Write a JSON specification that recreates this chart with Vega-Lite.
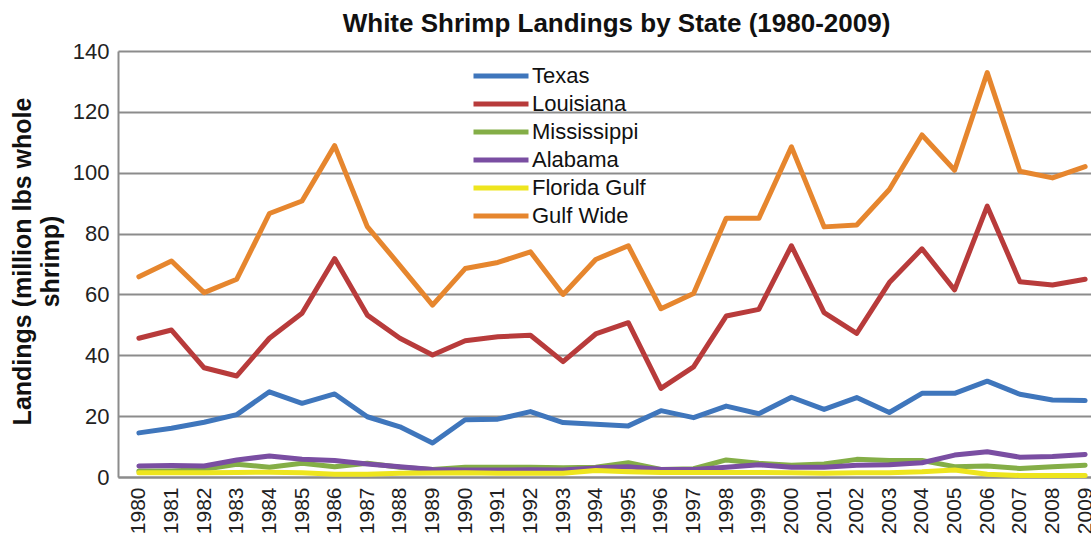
{
  "$schema": "https://vega.github.io/schema/vega-lite/v6.json",
  "autosize": {"type": "none"},
  "width": 973,
  "height": 426,
  "padding": {"left": 118, "top": 51, "right": 0, "bottom": 61},
  "background": "white",
  "config": {
    "font": "Liberation Sans",
    "view": {"stroke": null},
    "axis": {"labelFont": "Liberation Sans", "titleFont": "Liberation Sans"},
    "legend": {"labelFont": "Liberation Sans"}
  },
  "title": {
    "text": "White Shrimp Landings by State (1980-2009)",
    "font": "Liberation Sans",
    "fontSize": 26,
    "fontWeight": "bold",
    "color": "#111111",
    "anchor": "middle",
    "dx": 12,
    "offset": 3
  },
  "datasets": {
    "table": [
      {"year": 1980, "state": "Texas", "value": 14.5},
      {"year": 1981, "state": "Texas", "value": 16},
      {"year": 1982, "state": "Texas", "value": 18},
      {"year": 1983, "state": "Texas", "value": 20.5},
      {"year": 1984, "state": "Texas", "value": 28},
      {"year": 1985, "state": "Texas", "value": 24.2},
      {"year": 1986, "state": "Texas", "value": 27.3},
      {"year": 1987, "state": "Texas", "value": 19.8},
      {"year": 1988, "state": "Texas", "value": 16.5},
      {"year": 1989, "state": "Texas", "value": 11.2},
      {"year": 1990, "state": "Texas", "value": 18.8},
      {"year": 1991, "state": "Texas", "value": 19},
      {"year": 1992, "state": "Texas", "value": 21.5},
      {"year": 1993, "state": "Texas", "value": 17.9},
      {"year": 1994, "state": "Texas", "value": 17.3},
      {"year": 1995, "state": "Texas", "value": 16.8},
      {"year": 1996, "state": "Texas", "value": 21.8},
      {"year": 1997, "state": "Texas", "value": 19.5},
      {"year": 1998, "state": "Texas", "value": 23.3},
      {"year": 1999, "state": "Texas", "value": 20.8},
      {"year": 2000, "state": "Texas", "value": 26.2},
      {"year": 2001, "state": "Texas", "value": 22.2},
      {"year": 2002, "state": "Texas", "value": 26.1},
      {"year": 2003, "state": "Texas", "value": 21.2},
      {"year": 2004, "state": "Texas", "value": 27.5},
      {"year": 2005, "state": "Texas", "value": 27.5},
      {"year": 2006, "state": "Texas", "value": 31.5},
      {"year": 2007, "state": "Texas", "value": 27.2},
      {"year": 2008, "state": "Texas", "value": 25.3},
      {"year": 2009, "state": "Texas", "value": 25.1},

      {"year": 1980, "state": "Louisiana", "value": 45.6},
      {"year": 1981, "state": "Louisiana", "value": 48.3},
      {"year": 1982, "state": "Louisiana", "value": 35.9},
      {"year": 1983, "state": "Louisiana", "value": 33.2},
      {"year": 1984, "state": "Louisiana", "value": 45.6},
      {"year": 1985, "state": "Louisiana", "value": 53.8},
      {"year": 1986, "state": "Louisiana", "value": 71.8},
      {"year": 1987, "state": "Louisiana", "value": 53.2},
      {"year": 1988, "state": "Louisiana", "value": 45.6},
      {"year": 1989, "state": "Louisiana", "value": 40.1},
      {"year": 1990, "state": "Louisiana", "value": 44.8},
      {"year": 1991, "state": "Louisiana", "value": 46.1},
      {"year": 1992, "state": "Louisiana", "value": 46.6},
      {"year": 1993, "state": "Louisiana", "value": 37.9},
      {"year": 1994, "state": "Louisiana", "value": 47},
      {"year": 1995, "state": "Louisiana", "value": 50.7},
      {"year": 1996, "state": "Louisiana", "value": 29.1},
      {"year": 1997, "state": "Louisiana", "value": 36.2},
      {"year": 1998, "state": "Louisiana", "value": 52.9},
      {"year": 1999, "state": "Louisiana", "value": 55.1},
      {"year": 2000, "state": "Louisiana", "value": 76},
      {"year": 2001, "state": "Louisiana", "value": 54},
      {"year": 2002, "state": "Louisiana", "value": 47.2},
      {"year": 2003, "state": "Louisiana", "value": 63.9},
      {"year": 2004, "state": "Louisiana", "value": 75},
      {"year": 2005, "state": "Louisiana", "value": 61.5},
      {"year": 2006, "state": "Louisiana", "value": 89},
      {"year": 2007, "state": "Louisiana", "value": 64.2},
      {"year": 2008, "state": "Louisiana", "value": 63.1},
      {"year": 2009, "state": "Louisiana", "value": 65},

      {"year": 1980, "state": "Mississippi", "value": 2},
      {"year": 1981, "state": "Mississippi", "value": 2},
      {"year": 1982, "state": "Mississippi", "value": 2.5},
      {"year": 1983, "state": "Mississippi", "value": 4.2},
      {"year": 1984, "state": "Mississippi", "value": 3.2},
      {"year": 1985, "state": "Mississippi", "value": 4.5},
      {"year": 1986, "state": "Mississippi", "value": 3.4},
      {"year": 1987, "state": "Mississippi", "value": 4.5},
      {"year": 1988, "state": "Mississippi", "value": 3.2},
      {"year": 1989, "state": "Mississippi", "value": 2.5},
      {"year": 1990, "state": "Mississippi", "value": 3.2},
      {"year": 1991, "state": "Mississippi", "value": 3.2},
      {"year": 1992, "state": "Mississippi", "value": 3.2},
      {"year": 1993, "state": "Mississippi", "value": 3},
      {"year": 1994, "state": "Mississippi", "value": 3.2},
      {"year": 1995, "state": "Mississippi", "value": 4.7},
      {"year": 1996, "state": "Mississippi", "value": 2.5},
      {"year": 1997, "state": "Mississippi", "value": 2.7},
      {"year": 1998, "state": "Mississippi", "value": 5.6},
      {"year": 1999, "state": "Mississippi", "value": 4.5},
      {"year": 2000, "state": "Mississippi", "value": 3.9},
      {"year": 2001, "state": "Mississippi", "value": 4.3},
      {"year": 2002, "state": "Mississippi", "value": 5.8},
      {"year": 2003, "state": "Mississippi", "value": 5.4},
      {"year": 2004, "state": "Mississippi", "value": 5.4},
      {"year": 2005, "state": "Mississippi", "value": 3.4},
      {"year": 2006, "state": "Mississippi", "value": 3.6},
      {"year": 2007, "state": "Mississippi", "value": 2.8},
      {"year": 2008, "state": "Mississippi", "value": 3.4},
      {"year": 2009, "state": "Mississippi", "value": 3.9},

      {"year": 1980, "state": "Alabama", "value": 3.6},
      {"year": 1981, "state": "Alabama", "value": 3.8},
      {"year": 1982, "state": "Alabama", "value": 3.6},
      {"year": 1983, "state": "Alabama", "value": 5.6},
      {"year": 1984, "state": "Alabama", "value": 6.9},
      {"year": 1985, "state": "Alabama", "value": 5.8},
      {"year": 1986, "state": "Alabama", "value": 5.4},
      {"year": 1987, "state": "Alabama", "value": 4.3},
      {"year": 1988, "state": "Alabama", "value": 3.4},
      {"year": 1989, "state": "Alabama", "value": 2.5},
      {"year": 1990, "state": "Alabama", "value": 2.3},
      {"year": 1991, "state": "Alabama", "value": 2.3},
      {"year": 1992, "state": "Alabama", "value": 2.4},
      {"year": 1993, "state": "Alabama", "value": 2.3},
      {"year": 1994, "state": "Alabama", "value": 3},
      {"year": 1995, "state": "Alabama", "value": 3.4},
      {"year": 1996, "state": "Alabama", "value": 2.5},
      {"year": 1997, "state": "Alabama", "value": 2.5},
      {"year": 1998, "state": "Alabama", "value": 3.2},
      {"year": 1999, "state": "Alabama", "value": 4},
      {"year": 2000, "state": "Alabama", "value": 3.2},
      {"year": 2001, "state": "Alabama", "value": 3.2},
      {"year": 2002, "state": "Alabama", "value": 3.9},
      {"year": 2003, "state": "Alabama", "value": 4},
      {"year": 2004, "state": "Alabama", "value": 4.7},
      {"year": 2005, "state": "Alabama", "value": 7.2},
      {"year": 2006, "state": "Alabama", "value": 8.3},
      {"year": 2007, "state": "Alabama", "value": 6.5},
      {"year": 2008, "state": "Alabama", "value": 6.7},
      {"year": 2009, "state": "Alabama", "value": 7.4},

      {"year": 1980, "state": "Florida Gulf", "value": 1.4},
      {"year": 1981, "state": "Florida Gulf", "value": 1.4},
      {"year": 1982, "state": "Florida Gulf", "value": 1.4},
      {"year": 1983, "state": "Florida Gulf", "value": 1.5},
      {"year": 1984, "state": "Florida Gulf", "value": 1.6},
      {"year": 1985, "state": "Florida Gulf", "value": 1.4},
      {"year": 1986, "state": "Florida Gulf", "value": 0.9},
      {"year": 1987, "state": "Florida Gulf", "value": 0.9},
      {"year": 1988, "state": "Florida Gulf", "value": 1.2},
      {"year": 1989, "state": "Florida Gulf", "value": 1.3},
      {"year": 1990, "state": "Florida Gulf", "value": 1.4},
      {"year": 1991, "state": "Florida Gulf", "value": 1.2},
      {"year": 1992, "state": "Florida Gulf", "value": 1.2},
      {"year": 1993, "state": "Florida Gulf", "value": 1.2},
      {"year": 1994, "state": "Florida Gulf", "value": 2.1},
      {"year": 1995, "state": "Florida Gulf", "value": 1.7},
      {"year": 1996, "state": "Florida Gulf", "value": 1.5},
      {"year": 1997, "state": "Florida Gulf", "value": 1.5},
      {"year": 1998, "state": "Florida Gulf", "value": 1.5},
      {"year": 1999, "state": "Florida Gulf", "value": 1.5},
      {"year": 2000, "state": "Florida Gulf", "value": 1.4},
      {"year": 2001, "state": "Florida Gulf", "value": 1.2},
      {"year": 2002, "state": "Florida Gulf", "value": 1.4},
      {"year": 2003, "state": "Florida Gulf", "value": 1.4},
      {"year": 2004, "state": "Florida Gulf", "value": 1.7},
      {"year": 2005, "state": "Florida Gulf", "value": 2.3},
      {"year": 2006, "state": "Florida Gulf", "value": 0.9},
      {"year": 2007, "state": "Florida Gulf", "value": 0.5},
      {"year": 2008, "state": "Florida Gulf", "value": 0.5},
      {"year": 2009, "state": "Florida Gulf", "value": 0.5},

      {"year": 1980, "state": "Gulf Wide", "value": 65.8},
      {"year": 1981, "state": "Gulf Wide", "value": 71},
      {"year": 1982, "state": "Gulf Wide", "value": 60.6},
      {"year": 1983, "state": "Gulf Wide", "value": 65},
      {"year": 1984, "state": "Gulf Wide", "value": 86.6},
      {"year": 1985, "state": "Gulf Wide", "value": 90.7},
      {"year": 1986, "state": "Gulf Wide", "value": 108.9},
      {"year": 1987, "state": "Gulf Wide", "value": 82.3},
      {"year": 1988, "state": "Gulf Wide", "value": 69.5},
      {"year": 1989, "state": "Gulf Wide", "value": 56.5},
      {"year": 1990, "state": "Gulf Wide", "value": 68.5},
      {"year": 1991, "state": "Gulf Wide", "value": 70.5},
      {"year": 1992, "state": "Gulf Wide", "value": 74},
      {"year": 1993, "state": "Gulf Wide", "value": 60},
      {"year": 1994, "state": "Gulf Wide", "value": 71.5},
      {"year": 1995, "state": "Gulf Wide", "value": 76},
      {"year": 1996, "state": "Gulf Wide", "value": 55.3},
      {"year": 1997, "state": "Gulf Wide", "value": 60.3},
      {"year": 1998, "state": "Gulf Wide", "value": 85},
      {"year": 1999, "state": "Gulf Wide", "value": 85},
      {"year": 2000, "state": "Gulf Wide", "value": 108.5},
      {"year": 2001, "state": "Gulf Wide", "value": 82.2},
      {"year": 2002, "state": "Gulf Wide", "value": 82.8},
      {"year": 2003, "state": "Gulf Wide", "value": 94.5},
      {"year": 2004, "state": "Gulf Wide", "value": 112.4},
      {"year": 2005, "state": "Gulf Wide", "value": 100.8},
      {"year": 2006, "state": "Gulf Wide", "value": 132.9},
      {"year": 2007, "state": "Gulf Wide", "value": 100.5},
      {"year": 2008, "state": "Gulf Wide", "value": 98.3},
      {"year": 2009, "state": "Gulf Wide", "value": 102}
    ]
  },
  "data": {"name": "table"},
  "mark": {"type": "line", "strokeWidth": 5, "strokeJoin": "round", "strokeCap": "round"},
  "encoding": {
    "x": {
      "field": "year",
      "type": "quantitative",
      "scale": {"domain": [1979.36, 2009.18], "nice": false, "zero": false},
      "axis": {
        "title": null,
        "values": [1980,1981,1982,1983,1984,1985,1986,1987,1988,1989,1990,1991,1992,1993,1994,1995,1996,1997,1998,1999,2000,2001,2002,2003,2004,2005,2006,2007,2008,2009],
        "format": "d",
        "labelAngle": -90,
        "labelFontSize": 21,
        "labelColor": "#222222",
        "labelPadding": 10,
        "labelOverlap": false,
        "labelFlush": false,
        "labelBound": false,
        "ticks": false,
        "grid": false,
        "domainColor": "#8c8c8c",
        "domainWidth": 2
      }
    },
    "y": {
      "field": "value",
      "type": "quantitative",
      "scale": {"domain": [0, 140], "nice": false},
      "axis": {
        "values": [0, 20, 40, 60, 80, 100, 120, 140],
        "title": ["Landings (million lbs whole", "shrimp)"],
        "titleFontSize": 25,
        "titleFontWeight": "bold",
        "titleColor": "#111111",
        "titleAngle": -90,
        "titleAlign": "center",
        "titleBaseline": "alphabetic",
        "titleX": -88,
        "titleY": 210,
        "titleLineHeight": 28,
        "labelFontSize": 22,
        "labelColor": "#222222",
        "labelPadding": 9,
        "ticks": false,
        "grid": true,
        "gridColor": "#8c8c8c",
        "gridWidth": 2,
        "domainColor": "#8c8c8c",
        "domainWidth": 2
      }
    },
    "color": {
      "field": "state",
      "type": "nominal",
      "sort": ["Texas", "Louisiana", "Mississippi", "Alabama", "Florida Gulf", "Gulf Wide"],
      "scale": {
        "domain": ["Texas", "Louisiana", "Mississippi", "Alabama", "Florida Gulf", "Gulf Wide"],
        "range": ["#3F76BC", "#B83B3B", "#84AE47", "#7A4EA2", "#EEE51E", "#E6862E"]
      },
      "legend": {
        "title": null,
        "orient": "none",
        "legendX": 372,
        "legendY": 14,
        "padding": 0,
        "symbolType": "M-5,0H5",
        "symbolSize": 121,
        "symbolStrokeWidth": 5,
        "symbolFillColor": "transparent",
        "labelOffset": 20,
        "labelFontSize": 22,
        "labelColor": "#111111",
        "rowPadding": 6
      }
    }
  }
}
